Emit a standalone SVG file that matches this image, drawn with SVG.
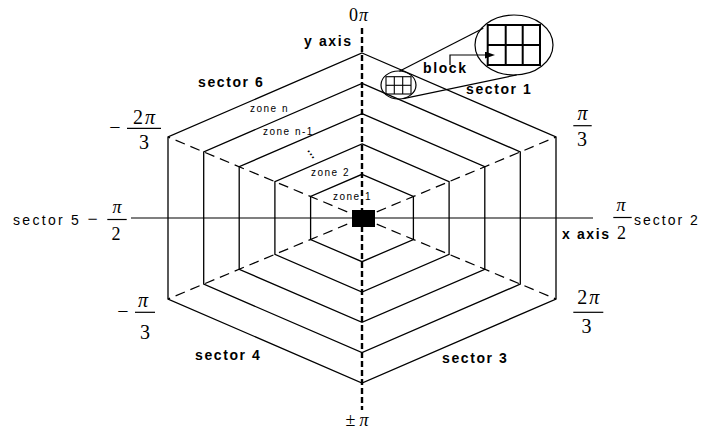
<svg xmlns="http://www.w3.org/2000/svg" width="702" height="436" viewBox="0 0 702 436">
<defs>
<style>
.hex{fill:none;stroke:#000;stroke-width:1.3}
.rad{fill:none;stroke:#000;stroke-width:1.2;stroke-dasharray:10 6}
.vax{fill:none;stroke:#000;stroke-width:2.4;stroke-dasharray:6 3}
.ln{fill:none;stroke:#000;stroke-width:1.2}
.grid{fill:none;stroke:#000;stroke-width:1.1}
.gridb{fill:none;stroke:#000;stroke-width:2}
.lb{font-family:"Liberation Sans",Arial,sans-serif;font-weight:bold;font-size:14px;letter-spacing:1.6px;fill:#000}
.lr{font-family:"Liberation Sans",Arial,sans-serif;font-size:14px;letter-spacing:2.3px;fill:#000}
.zn{font-family:"Liberation Sans",Arial,sans-serif;font-size:10px;letter-spacing:1.5px;fill:#000}
.m3{font-family:"Liberation Serif","Times New Roman",serif;font-size:20px;fill:#000;text-anchor:middle}
.m2{font-family:"Liberation Serif","Times New Roman",serif;font-size:18px;fill:#000;text-anchor:middle}
.pi{font-style:italic}
.bar{stroke:#000;stroke-width:1.2}
</style>
<marker id="ah" viewBox="0 0 10 7" refX="0" refY="3.5" markerWidth="11" markerHeight="7" markerUnits="userSpaceOnUse" orient="auto">
<path d="M0,0 L10,3.5 L0,7 z" fill="#000"/>
</marker>
</defs>
<rect width="702" height="436" fill="#fff"/>

<g id="hexagons">
<polygon class="hex" points="362,53 556,137 556,299 362,383 168,299 168,137"/>
<polygon class="hex" points="362,83.4 520.3,151.9 520.3,284.1 362,352.6 203.7,284.1 203.7,151.9"/>
<polygon class="hex" points="362,113.6 484.8,166.7 484.8,269.3 362,322.4 239.2,269.3 239.2,166.7"/>
<polygon class="hex" points="362,143.9 449.1,181.6 449.1,254.4 362,292.1 274.9,254.4 274.9,181.6"/>
<polygon class="hex" points="362,174.3 413.4,196.5 413.4,239.5 362,261.7 310.6,239.5 310.6,196.5"/>
</g>

<g id="connectors">
<line class="rad" x1="362" y1="218" x2="556" y2="137"/>
<line class="rad" x1="362" y1="218" x2="556" y2="299"/>
<line class="rad" x1="362" y1="218" x2="168" y2="137"/>
<line class="rad" x1="362" y1="218" x2="168" y2="299"/>
<line class="ln" x1="131" y1="218" x2="593" y2="218"/>
<line class="vax" x1="362" y1="28" x2="362" y2="410"/>
<path class="ln" d="M450,65 V55 H485" marker-end="url(#ah)"/>
</g>

<g id="block-center">
<rect x="352" y="210" width="23" height="17" fill="#000"/>
</g>

<g id="magnifier">
<ellipse class="ln" cx="398.5" cy="85" rx="17.5" ry="14"/>
<g class="grid">
<rect x="386" y="76.7" width="25" height="17.3"/>
<line x1="394.3" y1="76.7" x2="394.3" y2="94"/>
<line x1="402.7" y1="76.7" x2="402.7" y2="94"/>
<line x1="386" y1="85.3" x2="411" y2="85.3"/>
</g>
<line class="ln" x1="399.3" y1="71.2" x2="483.3" y2="28.3"/>
<line class="ln" x1="403.3" y1="98.6" x2="516.7" y2="74.9"/>
<ellipse class="ln" cx="514" cy="45" rx="39" ry="30"/>
<g class="gridb">
<rect x="487.7" y="25" width="52.3" height="40"/>
<line x1="505.7" y1="25" x2="505.7" y2="65"/>
<line x1="522.7" y1="25" x2="522.7" y2="65"/>
<line x1="487.7" y1="45" x2="540" y2="45"/>
</g>
</g>

<g id="labels">
<text class="lb" x="304" y="46">y axis</text>
<text class="lb" x="562" y="239">x axis</text>
<text class="lb" x="423" y="72.5">block</text>
<text class="lb" x="466" y="94">sector 1</text>
<text class="lb" x="198" y="87">sector 6</text>
<text class="lb" x="195" y="360">sector 4</text>
<text class="lb" x="442" y="363">sector 3</text>
<text class="lr" x="13" y="225">sector 5</text>
<text class="lr" x="634" y="225" style="letter-spacing:2px">sector 2</text>

<text class="zn" x="250" y="111.5">zone n</text>
<text class="zn" x="263" y="135">zone n-1</text>
<text class="zn" x="311" y="176">zone 2</text>
<text class="zn" x="333" y="200">zone 1</text>
<text class="zn" x="0" y="0" transform="translate(307,150.5) rotate(55)" style="font-size:12px;font-weight:bold;letter-spacing:0.4px">...</text>

<text class="m2" x="358.5" y="21">0<tspan class="pi" dx="1">π</tspan></text>
<text class="m2" x="357" y="426">±<tspan class="pi" dx="4">π</tspan></text>

<text class="m2" x="92.5" y="225">−</text>
<text class="m2 pi" x="117" y="213">π</text>
<line class="bar" x1="107.3" y1="219.5" x2="126.7" y2="219.5"/>
<text class="m2" x="116" y="240">2</text>

<text class="m2 pi" x="621" y="210.5">π</text>
<line class="bar" x1="613.3" y1="217.5" x2="631.7" y2="217.5"/>
<text class="m2" x="621.5" y="239">2</text>

<text class="m3 pi" x="582.5" y="119.5">π</text>
<line class="bar" x1="573.3" y1="125.7" x2="591.7" y2="125.7"/>
<text class="m3" x="582" y="146">3</text>

<text class="m3" x="588.3" y="304">2<tspan class="pi" dx="2">π</tspan></text>
<line class="bar" x1="573.3" y1="312.3" x2="603.3" y2="312.3"/>
<text class="m3" x="586.5" y="332.5">3</text>

<text class="m3" x="115" y="134">−</text>
<text class="m3" x="144" y="124">2<tspan class="pi" dx="2">π</tspan></text>
<line class="bar" x1="127" y1="128.3" x2="161" y2="128.3"/>
<text class="m3" x="144" y="149">3</text>

<text class="m3" x="123" y="318">−</text>
<text class="m3 pi" x="143" y="307">π</text>
<line class="bar" x1="135" y1="312.3" x2="155" y2="312.3"/>
<text class="m3" x="145" y="339">3</text>
</g>
</svg>
